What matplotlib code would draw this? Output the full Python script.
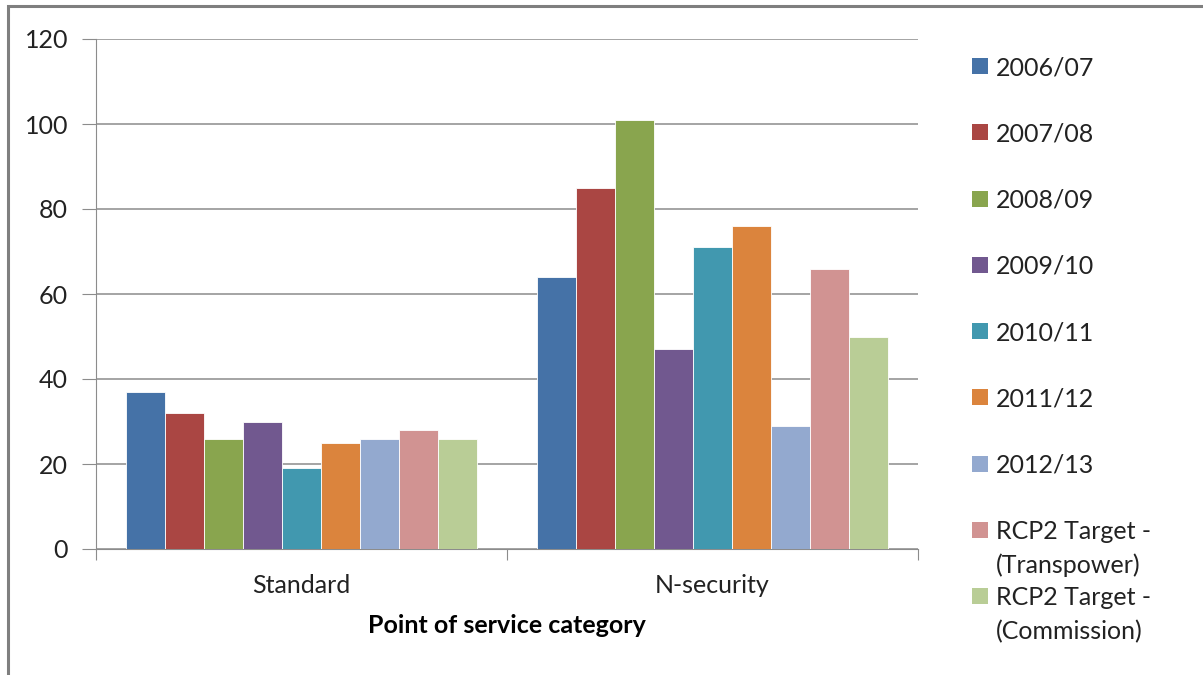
import matplotlib.pyplot as plt
from matplotlib.patches import Rectangle
import numpy as np

categories = ["Standard", "N-security"]
series = ["2006/07", "2007/08", "2008/09", "2009/10", "2010/11", "2011/12",
          "2012/13", "RCP2 Target -\n(Transpower)", "RCP2 Target -\n(Commission)"]
standard = [37, 32, 26, 30, 19, 25, 26, 28, 26]
n_security = [64, 85, 101, 47, 71, 76, 29, 66, 50]
colors = ["#4572A7", "#AA4643", "#89A54E", "#71588F", "#4198AF", "#DB843D",
          "#93A9CF", "#D19392", "#B9CD96"]

plt.rcParams['font.family'] = ['Lato', 'DejaVu Sans']
W, H = 1203, 675
fs = 18
fig = plt.figure(figsize=(W / 100, H / 100), dpi=100)
ax = fig.add_axes([96 / W, 1 - 549 / H, (918 - 96) / W, (549 - 39) / H])

# outer chart frame
fig.patches.append(Rectangle((8 / W, -0.2), 1.2, 1.2 - 6 / H, transform=fig.transFigure,
                             fill=False, edgecolor="#7f7f7f", linewidth=2.2))

x = np.arange(len(categories))
w = 0.0949
for i, name in enumerate(series):
    vals = [standard[i], n_security[i]]
    ax.bar(x + (i - 4) * w, vals, width=w, color=colors[i], edgecolor="white",
           linewidth=0.6, zorder=3)

ax.set_xlim(-0.5, 1.5)
ax.set_ylim(0, 120)
ax.set_yticks(range(0, 121, 20))
ax.grid(axis='y', color="#8c8c8c", linewidth=1.1, zorder=0)
for s in ["top", "right"]:
    ax.spines[s].set_visible(False)
ax.spines["left"].set_color("#8c8c8c")
ax.spines["bottom"].set_color("#8c8c8c")
ax.tick_params(axis='y', length=10, color="#8c8c8c", labelsize=fs, pad=10, labelcolor="#222222")
ax.set_xticks([-0.5, 0.5, 1.5])
ax.set_xticklabels([])
ax.set_xticks(x, minor=True)
ax.set_xticklabels(categories, minor=True)
ax.tick_params(axis='x', which='major', length=8, color="#8c8c8c")
ax.tick_params(axis='x', which='minor', length=0, labelsize=fs, pad=18, labelcolor="#222222")
ax.set_xlabel("Point of service category", fontsize=fs, fontweight='bold', labelpad=12)

# legend on the right, one text per line so every first line sits by its swatch
for i, name in enumerate(series):
    yc = 66 + i * 66.3
    fig.patches.append(Rectangle((972 / W, 1 - (yc + 8) / H), 16 / W, 16 / H,
                                 transform=fig.transFigure, facecolor=colors[i],
                                 edgecolor="none"))
    for j, line in enumerate(name.split("\n")):
        fig.text(996 / W, 1 - (yc + 9 + j * 34) / H, line, fontsize=fs, va='baseline',
                 ha='left', color="#222222")

fig.savefig("out.png", dpi=100)
